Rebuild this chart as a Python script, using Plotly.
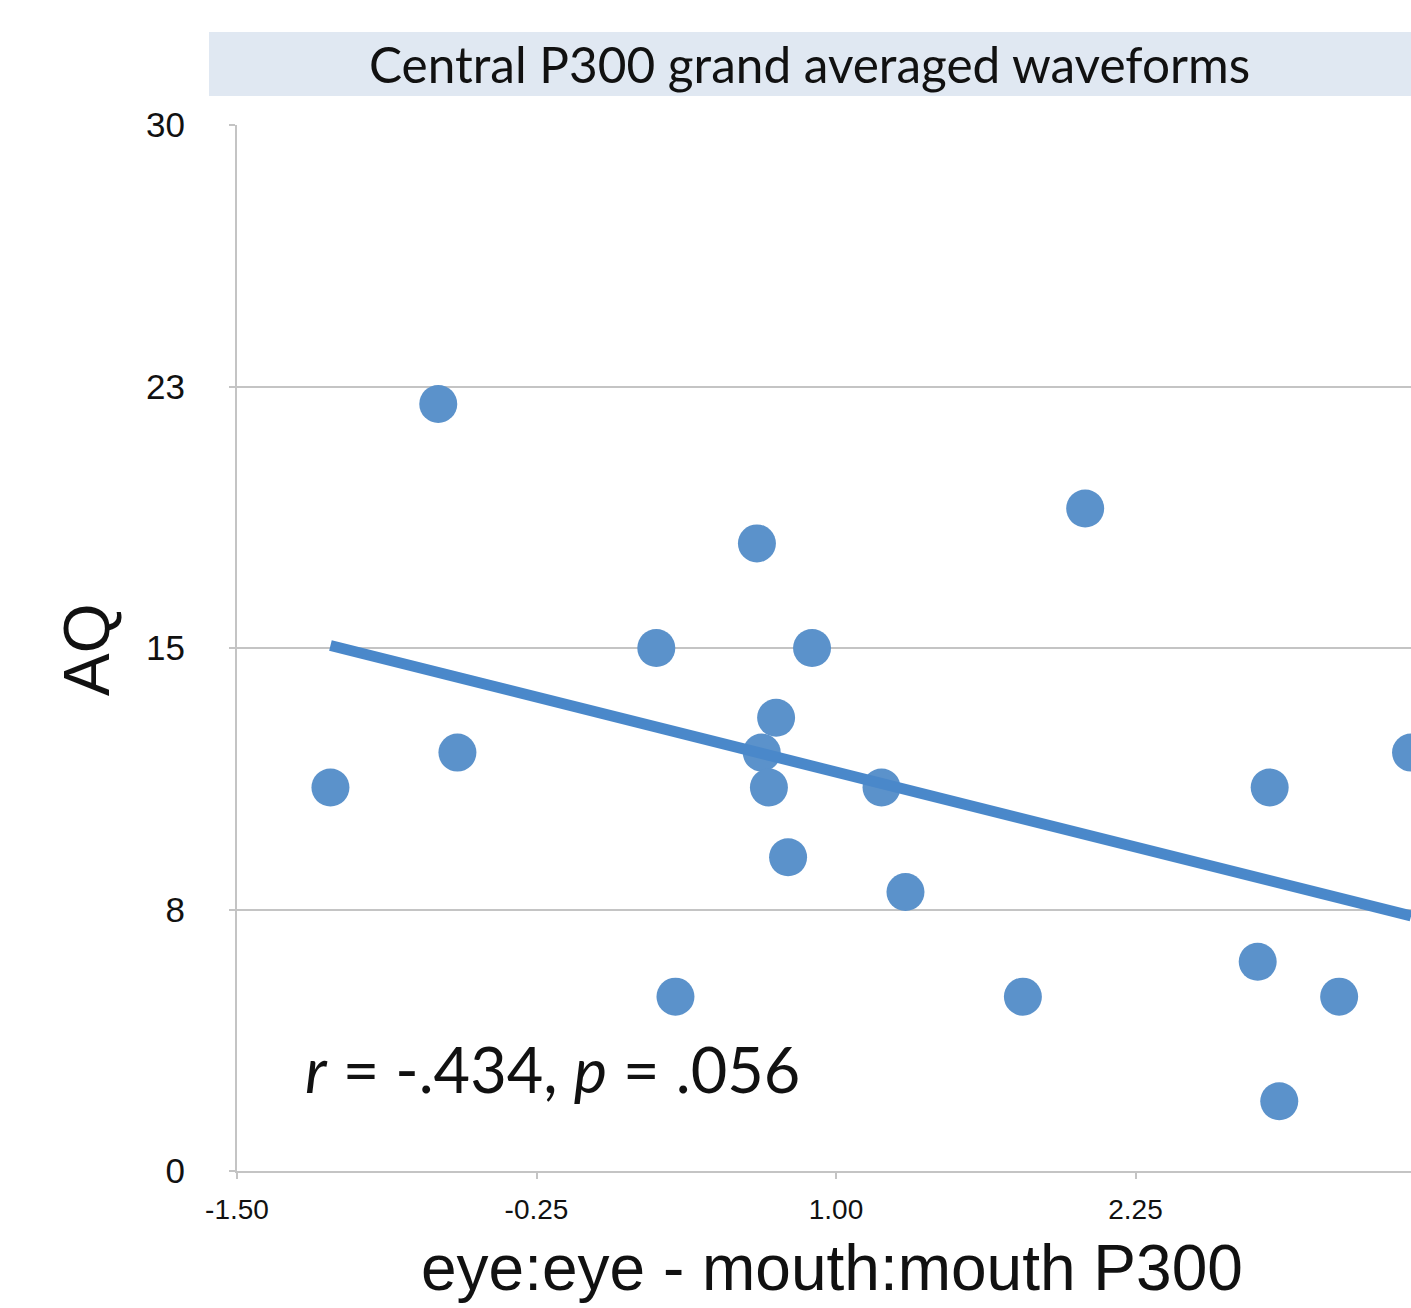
import numpy as np
import plotly.graph_objects as go

# Data
p300_diff = [-1.11, -0.66, -0.58, 0.25, 0.33, 0.67, 0.69, 0.72, 0.75, 0.80,
             0.90, 1.19, 1.29, 1.78, 2.04, 2.76, 2.81, 2.85, 3.10, 3.40]
aq_scores = [11, 22, 12, 15, 5, 18, 12, 11, 13, 9,
             15, 11, 8, 5, 19, 6, 11, 2, 5, 12]

x_tickvals = [-1.5, -0.25, 1.0, 2.25, 3.5]
x_ticktext = ["-1.50", "-0.25", "1.00", "2.25", "3.50"]
y_tickvals = [0, 7.5, 15, 22.5, 30]
y_ticktext = ["0", "8", "15", "23", "30"]

title_text = "Central P300 grand averaged waveforms"
x_title = "eye:eye - mouth:mouth P300"
y_title = "AQ"
stat_text = "<i>r</i> = -.434, <i>p</i> = .056"

# Linear trend (least squares) from the data
slope, intercept = np.polyfit(p300_diff, aq_scores, 1)
trend_x = [min(p300_diff), max(p300_diff)]
trend_y = [slope * v + intercept for v in trend_x]

W, H = 1411, 1308
L, R, T, B = 237, 0, 125, 137
pw, ph = W - L - R, H - T - B

def px(x):
    return (x - L) / pw

def py(y):
    return (H - B - y) / ph

fig = go.Figure()
fig.add_trace(go.Scatter(
    x=p300_diff, y=aq_scores, mode="markers",
    marker=dict(size=38, color="rgb(91,146,203)", line=dict(width=0)),
    showlegend=False,
))
fig.add_trace(go.Scatter(
    x=trend_x, y=trend_y, mode="lines",
    line=dict(color="rgb(74,136,202)", width=11),
    showlegend=False,
))

grid_col = "#c4c4c4"
fig.update_layout(
    width=W, height=H,
    margin=dict(l=L, r=R, t=T, b=B, pad=0),
    paper_bgcolor="white", plot_bgcolor="white",
    font=dict(family="Liberation Sans, Arial, sans-serif", color="#111"),
    xaxis=dict(
        range=[-1.5, -1.5 + (1411 - 237) / 239.6],
        tickvals=x_tickvals, ticktext=x_ticktext,
        showgrid=False, zeroline=False,
        showline=True, linecolor=grid_col, linewidth=2,
        ticks="outside", ticklen=6, tickcolor=grid_col, tickwidth=2,
        tickfont=dict(size=28, family="Liberation Sans, Arial, sans-serif", color="#111"),
        ticklabelstandoff=6,
    ),
    yaxis=dict(
        range=[0, 30],
        tickvals=y_tickvals, ticktext=y_ticktext,
        showgrid=True, gridcolor=grid_col, gridwidth=2,
        zeroline=False,
        showline=True, linecolor=grid_col, linewidth=2,
        ticks="outside", ticklen=6, tickcolor=grid_col, tickwidth=2,
        tickfont=dict(size=35, family="Liberation Sans, Arial, sans-serif", color="#111"),
        ticklabelstandoff=37,
    ),
    shapes=[dict(
        type="rect", xref="paper", yref="paper", layer="below",
        x0=px(209), x1=px(1411), y0=py(96), y1=py(32),
        fillcolor="#e0e8f2", line=dict(width=0),
    )],
    annotations=[
        dict(text=title_text, xref="paper", yref="paper",
             x=px(809), y=py(64), xanchor="center", yanchor="middle",
             showarrow=False,
             font=dict(family="Lato, sans-serif", size=49.5, color="#111")),
        dict(text=x_title, xref="paper", yref="paper",
             x=px(832), y=py(1268), xanchor="center", yanchor="middle",
             showarrow=False,
             font=dict(family="Liberation Sans, Arial, sans-serif", size=64, color="#111")),
        dict(text=y_title, xref="paper", yref="paper",
             x=px(87), y=py(650), xanchor="center", yanchor="middle",
             textangle=-90, showarrow=False,
             font=dict(family="Liberation Sans, Arial, sans-serif", size=64, color="#111")),
        dict(text=stat_text, xref="paper", yref="paper",
             x=px(303), y=py(1068), xanchor="left", yanchor="middle",
             showarrow=False,
             font=dict(family="Lato, sans-serif", size=63, color="#111")),
    ],
)

fig.write_html("out.html")
